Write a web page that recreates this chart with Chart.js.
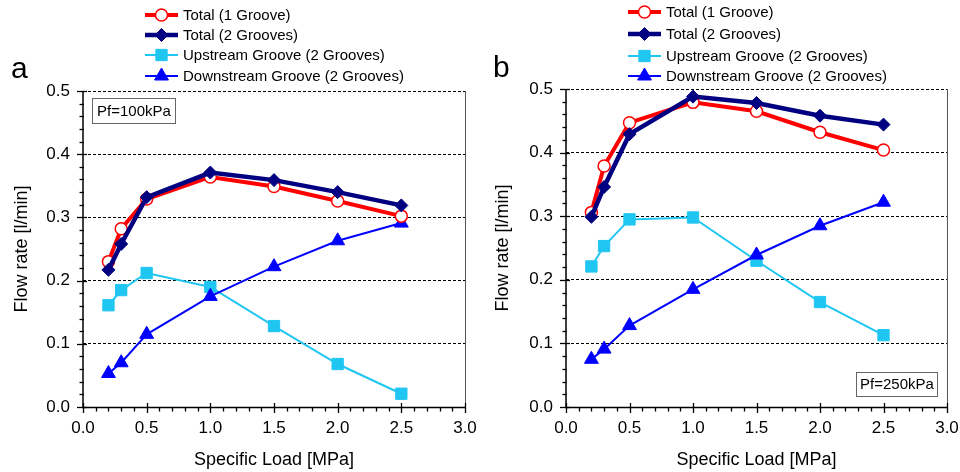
<!DOCTYPE html>
<html>
<head>
<meta charset="utf-8">
<script src="https://cdn.jsdelivr.net/npm/chart.js@4/dist/chart.umd.min.js"></script>
<style>
  html, body { margin: 0; padding: 0; background: #fff; }
  #wrap { position: relative; width: 960px; height: 472px; }
  .panel { position: absolute; top: 0; width: 480px; height: 472px; }
</style>
</head>
<body>
<div id="wrap">
  <div class="panel" style="left:0"><canvas id="chartA" width="480" height="472"></canvas></div>
  <div class="panel" style="left:480px"><canvas id="chartB" width="480" height="472"></canvas></div>
</div>
<script>
// Specific load [MPa]
const loads = [0.2, 0.3, 0.5, 1.0, 1.5, 2.0, 2.5];
const seriesNames = ['Total (1 Groove)', 'Total (2 Grooves)', 'Upstream Groove (2 Grooves)', 'Downstream Groove (2 Grooves)'];
const xTickValues = [0.0, 0.5, 1.0, 1.5, 2.0, 2.5, 3.0];
const yTickValues = [0.0, 0.1, 0.2, 0.3, 0.4, 0.5];

// Flow rate [l/min], Pf = 100 kPa
const total1A     = [0.230, 0.282, 0.329, 0.364, 0.349, 0.326, 0.302];
const total2A     = [0.217, 0.258, 0.332, 0.371, 0.359, 0.340, 0.319];
const upstreamA   = [0.161, 0.185, 0.212, 0.190, 0.128, 0.068, 0.021];
const downstreamA = [0.053, 0.070, 0.115, 0.175, 0.222, 0.263, 0.291];

// Flow rate [l/min], Pf = 250 kPa
const total1B     = [0.306, 0.379, 0.447, 0.479, 0.465, 0.432, 0.404];
const total2B     = [0.299, 0.346, 0.429, 0.488, 0.478, 0.458, 0.444];
const upstreamB   = [0.221, 0.253, 0.295, 0.298, 0.230, 0.165, 0.113];
const downstreamB = [0.075, 0.091, 0.128, 0.185, 0.239, 0.285, 0.322];

const FONT = "'Liberation Sans', Arial, Helvetica, sans-serif";
Chart.defaults.font.family = FONT;
Chart.defaults.color = '#000';

const styles = [
  { borderColor: '#ff0000', backgroundColor: '#ffffff', borderWidth: 4, pointStyle: 'circle', pointRadius: 6, pointBorderWidth: 1.5, pointBackgroundColor: '#ffffff', pointBorderColor: '#ff0000', order: 2 },
  { borderColor: '#000080', backgroundColor: '#000080', borderWidth: 4.5, pointStyle: 'rectRot', pointRadius: 6.5, pointBorderWidth: 1, pointBackgroundColor: '#000080', pointBorderColor: '#000080', order: 1 },
  { borderColor: '#20c6f2', backgroundColor: '#20c6f2', borderWidth: 2, pointStyle: 'rect', pointRadius: 8, pointBorderWidth: 1, pointBackgroundColor: '#20c6f2', pointBorderColor: '#20c6f2', order: 4 },
  { borderColor: '#0000ff', backgroundColor: '#0000ff', borderWidth: 2, pointStyle: 'triangle', pointRadius: 8, pointBorderWidth: 1, pointBackgroundColor: '#0000ff', pointBorderColor: '#0000ff', order: 3 }
];

function makeDatasets(seriesList) {
  return seriesList.map((vals, i) => Object.assign({
    label: seriesNames[i],
    data: loads.map((x, j) => ({ x: x, y: vals[j] })),
    tension: 0,
    pointHoverRadius: styles[i].pointRadius,
    clip: false
  }, styles[i]));
}

// Axis lines, frame and minor ticks drawn around the plot area
const framePlugin = {
  id: 'frame',
  afterDraw(chart) {
    const ctx = chart.ctx;
    const { left, right, top, bottom } = chart.chartArea;
    const xs = chart.scales.x, ys = chart.scales.y;
    ctx.save();
    // right border
    ctx.strokeStyle = '#555';
    ctx.lineWidth = 1;
    ctx.beginPath(); ctx.moveTo(right + 0.5, top); ctx.lineTo(right + 0.5, bottom); ctx.stroke();
    // left and bottom axes
    ctx.strokeStyle = '#000';
    ctx.lineWidth = 1.5;
    ctx.beginPath();
    ctx.moveTo(left, top); ctx.lineTo(left, bottom + 0.5);
    ctx.lineTo(right + 1, bottom + 0.5);
    ctx.stroke();
    // y ticks: major every 0.1, minor every 0.02
    ctx.lineWidth = 1.3;
    for (let k = 0; k <= 25; k++) {
      const py = Math.round(ys.getPixelForValue(k * 0.02)) + 0.5;
      const major = k % 5 === 0;
      ctx.beginPath();
      ctx.moveTo(left - (major ? 6 : 3.5), py);
      ctx.lineTo(left + (major ? 4 : 1), py);
      ctx.stroke();
    }
    // x ticks: major every 0.5, minor every 0.1
    for (let k = 0; k <= 30; k++) {
      const px = Math.round(xs.getPixelForValue(k * 0.1)) + 0.5;
      const major = k % 5 === 0;
      ctx.beginPath();
      ctx.moveTo(px, bottom - (major ? 4 : 0));
      ctx.lineTo(px, bottom + (major ? 6 : 4.5));
      ctx.stroke();
    }
    ctx.restore();
  }
};

// Legend rows (line sample + marker + label), panel letter and condition box
const decorPlugin = {
  id: 'decor',
  afterDraw(chart, args, opts) {
    const ctx = chart.ctx;
    ctx.save();
    // legend
    const lx = opts.legendX;
    chart.data.datasets.forEach((ds, i) => {
      const ly = opts.legendRows[i];
      ctx.strokeStyle = ds.borderColor;
      ctx.lineWidth = ds.borderWidth;
      ctx.beginPath(); ctx.moveTo(lx, ly); ctx.lineTo(lx + 33, ly); ctx.stroke();
      ctx.fillStyle = ds.pointBackgroundColor;
      ctx.strokeStyle = ds.pointBorderColor;
      ctx.lineWidth = ds.pointBorderWidth;
      Chart.helpers.drawPoint(ctx, { pointStyle: ds.pointStyle, radius: ds.pointRadius, rotation: 0, borderWidth: ds.pointBorderWidth }, lx + 16.5, ly);
      ctx.fillStyle = '#000';
      ctx.font = '15px ' + FONT;
      ctx.textAlign = 'left';
      ctx.textBaseline = 'middle';
      ctx.fillText(ds.label, lx + 38, ly + 0.5);
    });
    // panel letter
    ctx.fillStyle = '#000';
    ctx.font = '30px ' + FONT;
    ctx.textAlign = 'left';
    ctx.textBaseline = 'alphabetic';
    ctx.fillText(opts.letter, opts.letterX, opts.letterY);
    // condition box
    const b = opts.box;
    ctx.fillStyle = '#fff';
    ctx.fillRect(b.x, b.y, b.w, b.h);
    ctx.strokeStyle = '#666';
    ctx.lineWidth = 1;
    ctx.strokeRect(b.x + 0.5, b.y + 0.5, b.w, b.h);
    ctx.fillStyle = '#000';
    ctx.font = '15px ' + FONT;
    ctx.textAlign = 'center';
    ctx.textBaseline = 'middle';
    ctx.fillText(b.text, b.x + b.w / 2 + 0.5, b.y + b.h / 2 + 1);
    ctx.restore();
  }
};

function makeChart(id, seriesList, cfg) {
  return new Chart(document.getElementById(id), {
    type: 'line',
    data: { datasets: makeDatasets(seriesList) },
    options: {
      responsive: false,
      animation: false,
      events: [],
      layout: { padding: { left: 0, right: 480 - cfg.right, top: cfg.top, bottom: 0 } },
      plugins: {
        legend: { display: false },
        tooltip: { enabled: false },
        decor: cfg.decor
      },
      scales: {
        x: {
          type: 'linear',
          min: 0, max: 3,
          afterBuildTicks: (s) => { s.ticks = xTickValues.map(v => ({ value: v })); },
          afterFit: (s) => { s.height = 472 - cfg.bottom; s.paddingLeft = 0; s.paddingRight = 0; },
          ticks: { font: { size: 17 }, color: '#000', padding: 11, maxRotation: 0, callback: (v) => Number(v).toFixed(1) },
          grid: { display: false, drawTicks: false },
          border: { display: false },
          title: { display: true, text: 'Specific Load [MPa]', font: { size: 18 }, color: '#000', padding: { top: 0, bottom: 1 } }
        },
        y: {
          type: 'linear',
          min: 0, max: 0.5,
          afterBuildTicks: (s) => { s.ticks = yTickValues.map(v => ({ value: v })); },
          afterFit: (s) => { s.width = cfg.left; s.paddingTop = 0; s.paddingBottom = 0; },
          ticks: { font: { size: 17 }, color: '#000', padding: 13, callback: (v) => Number(v).toFixed(1) },
          grid: { display: true, drawTicks: false, color: '#000', lineWidth: 1 },
          border: { display: false, dash: [3, 2] },
          title: { display: true, text: 'Flow rate [l/min]', font: { size: 18 }, color: '#000', padding: { top: cfg.yTitlePad, bottom: 0 } }
        }
      }
    },
    plugins: [framePlugin, decorPlugin]
  });
}

makeChart('chartA', [total1A, total2A, upstreamA, downstreamA], {
  left: 83, right: 465, top: 91, bottom: 407, yTitlePad: 11,
  decor: {
    legendX: 145, legendRows: [15, 35, 55, 76],
    letter: 'a', letterX: 11, letterY: 78,
    box: { x: 92, y: 98, w: 83, h: 25, text: 'Pf=100kPa' }
  }
});

makeChart('chartB', [total1B, total2B, upstreamB, downstreamB], {
  left: 86, right: 467, top: 89, bottom: 407, yTitlePad: 12,
  decor: {
    legendX: 148, legendRows: [12, 34, 56, 76],
    letter: 'b', letterX: 13, letterY: 77,
    box: { x: 376, y: 372, w: 81, h: 24, text: 'Pf=250kPa' }
  }
});
</script>
</body>
</html>
